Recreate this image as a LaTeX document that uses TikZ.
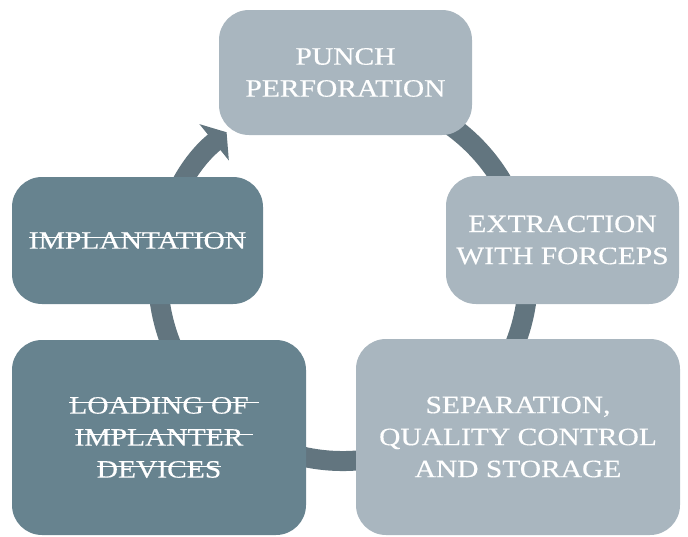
\documentclass[tikz,border=0pt]{standalone}
\usepackage{fontspec}
\newfontfamily\stagefont{Liberation Serif}[FakeStretch=1.18,FakeBold=0.4]
\usepackage{tikz}
\usetikzlibrary{arrows.meta}
\usepackage{xcolor}
\definecolor{stagelight}{HTML}{A9B6BF}
\definecolor{stagedark}{HTML}{67838F}
\definecolor{cyclegray}{HTML}{62757F}
\newlength{\strikelen}
\newcommand{\strikeout}[2][0pt]{\settowidth{\strikelen}{#2}\addtolength{\strikelen}{#1}%
	\rlap{\rule[0.43em]{\strikelen}{1.2pt}}#2}

\begin{document}
\begin{tikzpicture}[x=1pt,y=-1pt]
		\tikzset{stage/.style = {shape=rectangle,rounded corners=30pt,
				inner sep=0pt,align=center,text=white,
				font=\stagefont\fontsize{25}{32}\selectfont}}
		\tikzset{lightstage/.style = {stage,fill=stagelight}}
		\tikzset{darkstage/.style = {stage,fill=stagedark}}
		\tikzset{cycle/.style = {draw=cyclegray,line width=20pt,
				-{Triangle[length=16pt,width=46pt]}}}
		\useasboundingbox (0,0) rectangle (688,536);
		\coordinate (hub) at (343,276);

		% cycle
		\draw[cycle] ([shift={(-60:185)}]hub) arc[start angle=-60, end angle=231, radius=185];

		% stages
		\node[lightstage,minimum width=253pt,minimum height=125pt] (punch) at (345.5,72.5) {PUNCH\\PERFORATION};
		\node[lightstage,minimum width=233pt,minimum height=128pt] (extract) at (562.5,240) {EXTRACTION\\WITH FORCEPS};
		\node[lightstage,minimum width=324pt,minimum height=196pt] (separate) at (518,437) {SEPARATION,\\QUALITY CONTROL\\AND STORAGE};
		\node[darkstage,minimum width=294pt,minimum height=195pt] (load) at (159,437.5) {\strikeout[10pt]{LOADING OF}\\\strikeout[10pt]{IMPLANTER}\\\strikeout{DEVICES}};
		\node[darkstage,minimum width=251pt,minimum height=127pt] (implant) at (137.5,240.5) {\strikeout{IMPLANTATION}};
		\end{tikzpicture}
\end{document}
